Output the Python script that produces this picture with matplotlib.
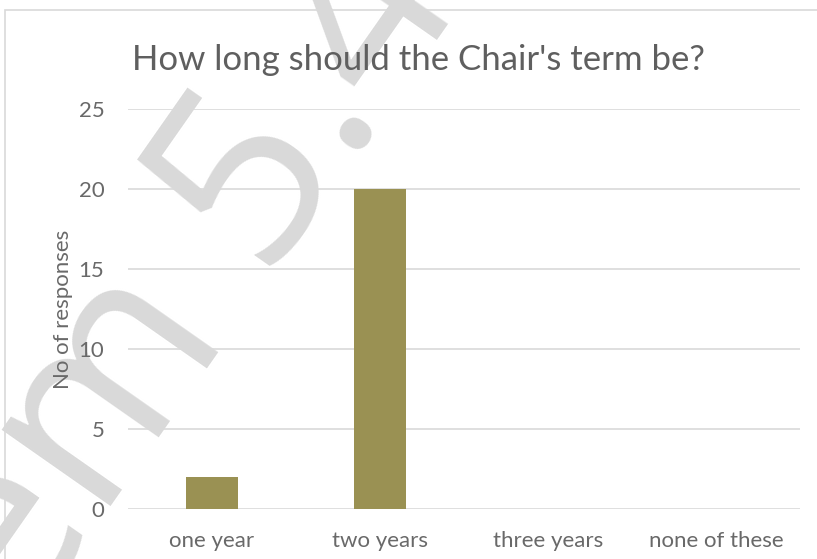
import numpy as np
import matplotlib.pyplot as plt
from matplotlib.patches import Rectangle

# data
categories = ['one year', 'two years', 'three years', 'none of these']
responses = [2, 20, 0, 0]
y_ticks = [0, 5, 10, 15, 20, 25]

W, H = 817, 559
fig = plt.figure(figsize=(W / 100, H / 100), dpi=100)
r = fig.canvas.get_renderer()

# outer chart border (cut off on the right and bottom)
fig.patches.append(Rectangle((5 / W, -0.1), 1.2, (H - 10) / H + 0.1, transform=fig.transFigure,
                             fill=False, edgecolor='#d9d9d9', linewidth=1.2, zorder=-2))

# watermark behind the chart, placed so that the "." lands where it is in the picture
wm = dict(family='Open Sans', fontsize=178, color='#d9d9d9')
def text_width(s):
    t = fig.text(0, 0, s, **wm)
    w = t.get_window_extent(r).width
    t.remove()
    return w
ang = 55
d = (text_width('Item 5') + text_width('Item 5.')) / 2
dot_x, dot_y = 367, H - 140
ox = dot_x - d * np.cos(np.radians(ang))
oy = dot_y - d * np.sin(np.radians(ang))
fig.text(ox / W, oy / H, 'Item 5.4', rotation=ang, rotation_mode='anchor',
         ha='left', va='baseline', zorder=-1, **wm)

ax = fig.add_axes([128 / W, (H - 509) / H, (800 - 128) / W, (509 - 109) / H])
ax.patch.set_visible(False)

x = range(len(categories))
ax.bar(x, responses, width=0.31, color='#9a9153', zorder=2)

ax.set_xlim(-0.5, len(categories) - 0.5)
ax.set_ylim(0, 25)
ax.set_yticks(y_ticks)
ax.set_xticks(list(x))
ax.set_xticklabels(categories)
ax.grid(axis='y', color='#d9d9d9', linewidth=1.2)
ax.set_axisbelow(True)
for s in ax.spines.values():
    s.set_visible(False)
ax.tick_params(length=0, labelsize=16, labelcolor='#696969')
ax.tick_params(axis='x', pad=16)
ax.tick_params(axis='y', pad=17)
for lbl in ax.get_xticklabels() + ax.get_yticklabels():
    lbl.set_family('Lato')

ax.set_ylabel('No of responses', fontsize=16, color='#696969', family='Lato', labelpad=4)
fig.text(418 / W, (H - 60) / H, "How long should the Chair's term be?", fontsize=25,
         family='Lato', color='#5f5f5f', ha='center', va='center')

fig.savefig('out.png', dpi=100)
